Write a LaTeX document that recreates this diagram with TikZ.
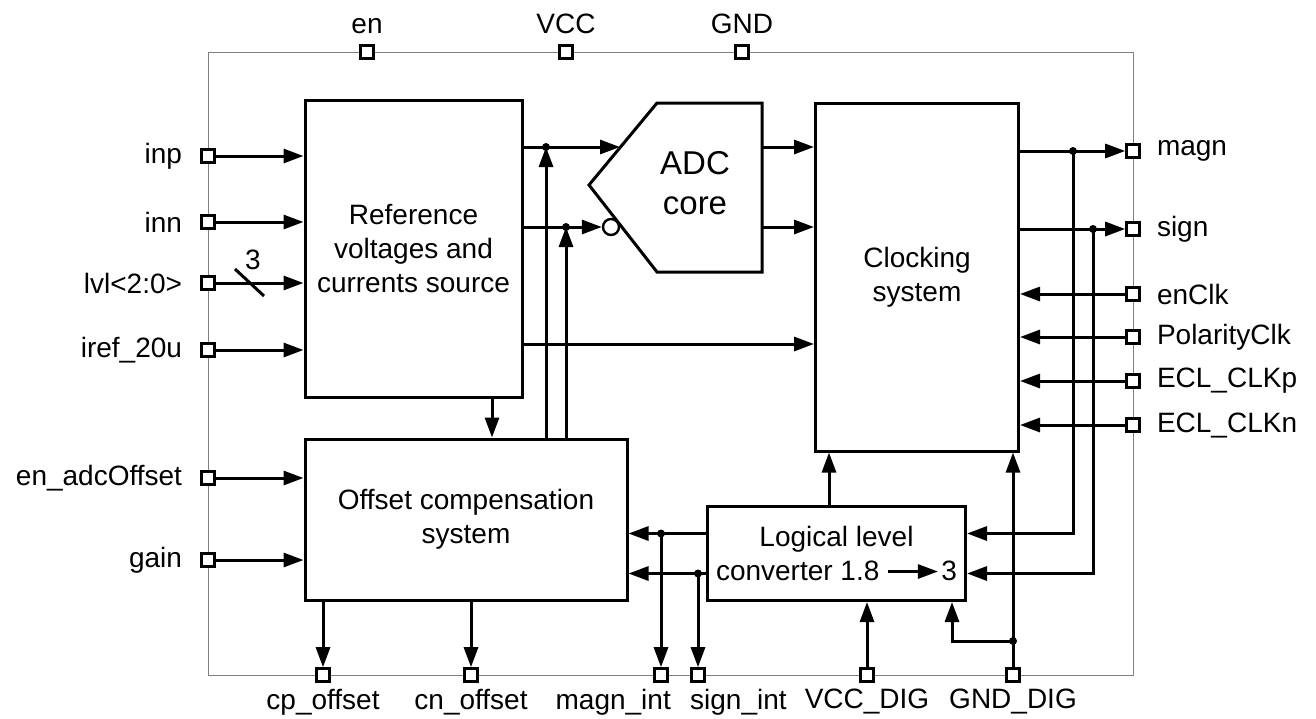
\documentclass[tikz,border=0pt]{standalone}
\usepackage{fontspec}
\setmainfont{Liberation Sans}
\usetikzlibrary{arrows.meta,positioning,calc}

\begin{document}
\begin{tikzpicture}[
    x=1pt, y=-1pt,
    every node/.style={font=\fontsize{28}{34}\selectfont},
    every label/.style={inner sep=0pt},
    blk/.style={draw,line width=3pt,inner sep=0pt,align=center},
    pin/.style={draw,fill=white,line width=2.6pt,minimum size=13pt,inner sep=0pt},
    lpin/.style={pin,label={[label distance=18pt]left:#1}},
    rpin/.style={pin,label={[label distance=16pt]right:#1}},
    tpin/.style={pin,label={[label distance=10pt]above:#1}},
    bpin/.style={pin,label={[label distance=6pt]below:#1}},
    arr/.style={-{Triangle[length=20pt,width=14pt]},line width=3pt},
    wire/.style={line width=3pt},
    tap/.style={circle,fill,inner sep=0pt,minimum size=8pt}
  ]
  \useasboundingbox (0,0) rectangle (1316,718);
  % outline of the chip
  \draw[gray,line width=1pt] (208,52) rectangle (1133,675);

  % blocks
  \node[blk,minimum width=217pt,minimum height=297pt] (ref) at (413.5,248.5) {Reference\\voltages and\\currents source};
  \node[blk,minimum width=322pt,minimum height=161pt] (offs) at (466,519.5) {Offset compensation\\system};
  \node[blk,minimum width=203pt,minimum height=348pt] (clk) at (917,277) {Clocking\\system};
  \node[blk,minimum width=258pt,minimum height=94pt] (conv) at (836.5,553.5)
    {Logical level\\converter 1.8\hspace{7pt}\tikz[baseline]\draw[arr] (0pt,9pt) -- (50pt,9pt);\hspace{2pt}3};

  % ADC core
  \draw[wire] (657,103) -- (762,103) -- (762,272) -- (657,272) -- (589,185) -- cycle;
  \node[font=\fontsize{33}{40}\selectfont,align=center] (adc) at (695,183) {ADC\\core};
  \node[circle,draw,fill=white,line width=2.4pt,minimum size=16pt,inner sep=0pt] (bub) at (611,227) {};
  \coordinate (adcinp) at (620,147);
  \coordinate (adcoutp) at (762,147);
  \coordinate (adcoutn) at (762,227);

  % pins
  \node[tpin=en] (en) at (367,52) {};
  \node[tpin=VCC] (vcc) at (566,52) {};
  \node[tpin=GND] (gnd) at (742,52) {};

  \node[lpin=inp] (inp) at (208,156) {};
  \node[lpin=inn] (inn) at (208,222) {};
  \node[pin,label={[label distance=18pt]left:{lvl<2:0>}}] (lvl) at (208,283) {};
  \node[lpin=iref\_20u] (iref) at (208,350) {};
  \node[lpin=en\_adcOffset] (enoff) at (208,478) {};
  \node[lpin=gain] (gain) at (208,560) {};

  \node[rpin=magn] (magn) at (1133,151) {};
  \node[rpin=sign] (sign) at (1133,229) {};
  \node[rpin=enClk] (enclk) at (1133,294) {};
  \node[rpin=PolarityClk] (polclk) at (1133,337) {};
  \node[rpin=ECL\_CLKp] (eclp) at (1133,381) {};
  \node[rpin=ECL\_CLKn] (ecln) at (1133,425) {};

  \node[bpin=cp\_offset] (cp) at (323,675) {};
  \node[bpin=cn\_offset] (cn) at (471,675) {};
  \node[pin,label={[label distance=6pt,anchor=north east,xshift=10pt]below:magn\_int}] (mint) at (661,675) {};
  \node[pin,label={[label distance=6pt,anchor=north west,xshift=-8pt]below:sign\_int}] (sint) at (698,675) {};
  \node[bpin=VCC\_DIG] (vccd) at (867,675) {};
  \node[bpin=GND\_DIG] (gndd) at (1013,675) {};

  % inputs on the left
  \foreach \p in {inp,inn,lvl,iref}
    \draw[arr] (\p) -- (\p -| ref.west);
  \foreach \p in {enoff,gain}
    \draw[arr] (\p) -- (\p -| offs.west);
  \draw[wire] ([shift={(27,-14)}]lvl.center) -- ++(29,27);
  \node at ([shift={(45,-23)}]lvl.center) {3};

  % reference source outputs
  \node[tap] (tp) at (546,147) {};
  \node[tap] (tn) at (566,227) {};
  \draw[arr] (ref.east |- adcinp) -- (adcinp);
  \draw[arr] (ref.east |- bub) -- (bub.west);
  \draw[arr] (offs.north -| tp) -- (tp.center);
  \draw[arr] (offs.north -| tn) -- (tn.center);
  \coordinate (rc) at (ref.east |- 0,344);
  \draw[arr] (rc) -- (rc -| clk.west);
  \coordinate (ro) at (ref.south -| 492,0);
  \draw[arr] (ro) -- (ro |- offs.north);

  % ADC to clocking
  \draw[arr] (adcoutp) -- (adcoutp -| clk.west);
  \draw[arr] (adcoutn) -- (adcoutn -| clk.west);

  % clocking outputs and inputs
  \draw[arr] (clk.east |- magn) -- (magn.west);
  \draw[arr] (clk.east |- sign) -- (sign.west);
  \foreach \p in {enclk,polclk,eclp,ecln}
    \draw[arr] (\p) -- (\p -| clk.east);
  \node[tap] (tm) at (1073,151) {};
  \node[tap] (ts) at (1093,229) {};
  \coordinate (cvm) at ([yshift=20pt]conv.east);
  \coordinate (cvs) at ([yshift=-20pt]conv.east);
  \draw[arr] (tm.center) |- (cvm);
  \draw[arr] (ts.center) |- (cvs);

  % level converter
  \coordinate (cwm) at ([yshift=20pt]conv.west);
  \coordinate (cws) at ([yshift=-20pt]conv.west);
  \draw[arr] (cwm) -- (cwm -| offs.east);
  \draw[arr] (cws) -- (cws -| offs.east);
  \node[tap] (tmi) at (cwm -| mint) {};
  \node[tap] (tsi) at (cws -| sint) {};
  \draw[arr] (tmi.center) -- (mint.north);
  \draw[arr] (tsi.center) -- (sint.north);
  \coordinate (cu) at (conv.north -| 829,0);
  \draw[arr] (cu) -- (cu |- clk.south);
  \draw[arr] (vccd) -- (vccd |- conv.south);
  \draw[arr] (gndd) -- (gndd |- clk.south);
  \node[tap] (tg) at (gndd |- 0,641) {};
  \coordinate (cg) at (conv.south -| 952,0);
  \draw[arr] (tg.center) -| (cg);

  % offset outputs
  \draw[arr] (offs.south -| cp) -- (cp.north);
  \draw[arr] (offs.south -| cn) -- (cn.north);
\end{tikzpicture}
\end{document}
